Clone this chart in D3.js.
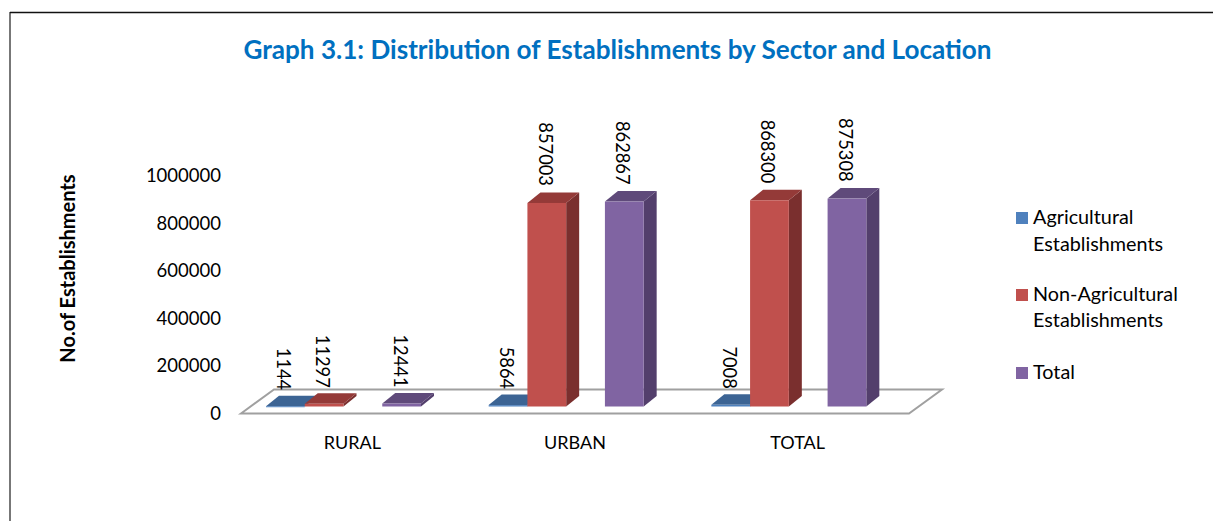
<!DOCTYPE html>
<html><head><meta charset="utf-8">
<script src="https://cdn.jsdelivr.net/npm/d3@7"></script>
<style>html,body{margin:0;padding:0;background:#fff}svg{display:block}text{font-family:Lato,"Open Sans",sans-serif}</style>
</head><body><div id="c"></div>
<script>
const categories = ["RURAL","URBAN","TOTAL"];
const seriesNames = ["Agricultural Establishments","Non-Agricultural Establishments","Total"];
const agricultural = [1144,5864,7008];
const nonAgricultural = [11297,857003,868300];
const total = [12441,862867,875308];
const yTicks = [0,200000,400000,600000,800000,1000000];
const titleText = "Graph 3.1: Distribution of Establishments by Sector and Location";
const yTitle = "No.of Establishments";

const W=1213,H=521;
const svg=d3.select("#c").append("svg").attr("width",W).attr("height",H);
const palette=[["#4F81BD","#3C6494","#2F4E75"],["#C0504D","#943A38","#7A2F2E"],["#8064A2","#5F4A7A","#533F6C"]];
const slots=["a","b","gap","c"];
const seriesSlots=["a","b","c"];
const seriesVals=[agricultural,nonAgricultural,total];

svg.append("line").attr("x1",10).attr("x2",10).attr("y1",12).attr("y2",H).attr("stroke","#777").attr("stroke-width",2);
svg.append("line").attr("x1",10).attr("x2",W).attr("y1",12.5).attr("y2",12.5).attr("stroke","#111").attr("stroke-width",1.5);

const x0=d3.scaleBand().domain(categories).range([241,909]);
const x1=d3.scaleBand().domain(slots).range([25,180]);
const y=d3.scaleLinear().domain([0,1000000]).range([413.5,176]);
const depthX=13,depthY=10.5,floorDX=33,floorDY=24,liftY=7;

svg.append("text").attr("x",617.5).attr("y",59).attr("text-anchor","middle").attr("fill","#0070C0")
 .attr("font-size",26.1).attr("font-weight",700).text(titleText);

svg.append("text").attr("transform",`translate(75,268.5) rotate(-90)`).attr("text-anchor","middle")
 .attr("font-size",20).attr("font-weight",700).attr("fill","#000").text(yTitle);

const ax=svg.append("g").attr("transform","translate(221,0)").call(d3.axisLeft(y).tickValues(yTicks).tickSize(0).tickPadding(0).tickFormat(d3.format("d")));
ax.select(".domain").remove();
ax.selectAll("text").attr("font-size",18.5).attr("fill","#000").style("font-family","Lato");

const xa=x0.range()[0],xb=x0.range()[1],yb=y(0);
svg.append("path").attr("d",`M${xa},${yb}L${xa+floorDX},${yb-floorDY}H${xb+floorDX}L${xb},${yb}Z`)
 .attr("fill","#fff").attr("stroke","#A0A0A0").attr("stroke-width",2);

seriesVals.forEach((vals,s)=>{
 const g=svg.append("g"),col=palette[s];
 categories.forEach((c,i)=>{
  const L=x0(c)+x1(seriesSlots[s]),R=L+x1.bandwidth(),T=y(vals[i])-liftY,B=y(0)-liftY;
  g.append("path").attr("d",`M${R},${B}V${T}l${depthX},${-depthY}V${B-depthY}Z`).attr("fill",col[2]);
  g.append("path").attr("d",`M${L},${T}l${depthX},${-depthY}H${R+depthX}L${R},${T}Z`).attr("fill",col[1]);
  g.append("rect").attr("x",L).attr("y",T).attr("width",R-L).attr("height",Math.max(B-T,1)).attr("fill",col[0]);
  svg.append("text").attr("transform",`translate(${(L+R)/2-1},${T-(vals[i]>100000?17:16)}) rotate(90)`).attr("text-anchor","end")
   .attr("dominant-baseline","central").attr("font-size",18.3).attr("fill","#000").text(vals[i]);
 });
});

svg.selectAll(".cat").data(categories).join("text").attr("class","cat")
 .attr("x",c=>x0(c)+x0.bandwidth()/2).attr("y",449).attr("text-anchor","middle").attr("font-size",18).attr("fill","#000").text(c=>c);

const legendRows=[[["Agricultural",224],["Establishments",251]],[["Non-Agricultural",301],["Establishments",327]],[["Total",379]]];
legendRows.forEach((rows,i)=>{
 svg.append("rect").attr("x",1016).attr("y",rows[0][1]-12).attr("width",12).attr("height",12).attr("fill",palette[i][0]);
 rows.forEach(r=>svg.append("text").attr("x",1033).attr("y",r[1]).attr("font-size",19.8).attr("fill","#000").text(r[0]));
});
</script></body></html>
